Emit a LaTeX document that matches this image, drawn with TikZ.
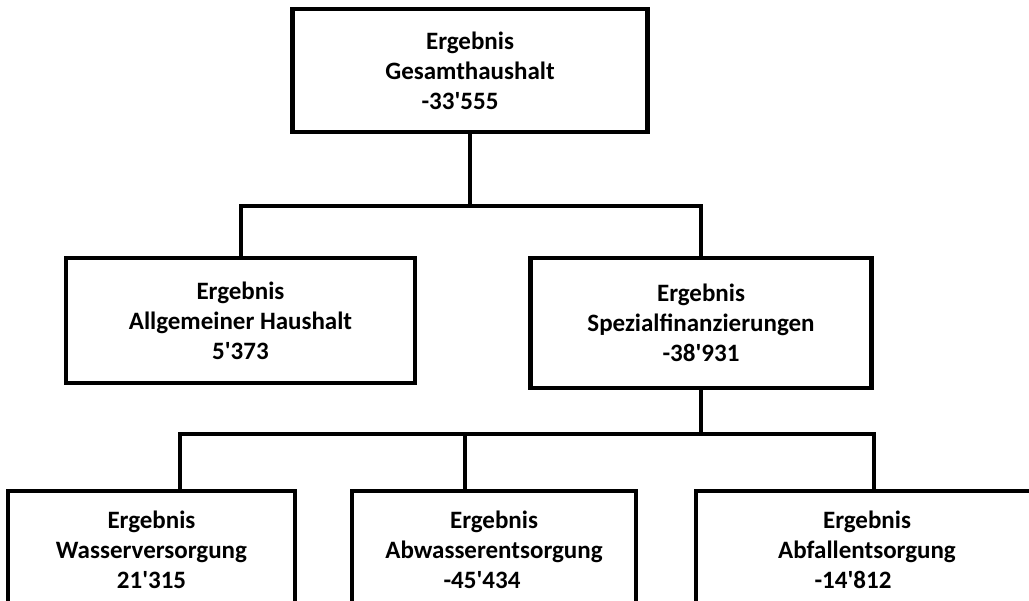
\documentclass[tikz,border=0pt]{standalone}
\usepackage{fontspec}
\setmainfont{Carlito}
\usepackage{tikz}
\tikzset{
  box/.style={draw, line width=4.5pt, inner sep=0, align=center,
    font=\fontsize{25}{30}\selectfont\bfseries},
  link/.style={line width=4pt}
}
\newcommand{\apo}{\textquotesingle}

\begin{document}
\begin{tikzpicture}[x=1pt,y=-1pt]
  \clip (0,0) rectangle (1029,601);
  % top level
  \node[box, minimum width=355pt, minimum height=123pt] (gesamt) at (470,70.5)
    {Ergebnis\\Gesamthaushalt\\-33\apo555\hspace*{20pt}};
  % second level
  \node[box, minimum width=349pt, minimum height=125pt] (allg) at (240.5,320.5)
    {Ergebnis\\Allgemeiner Haushalt\\5\apo373};
  \node[box, minimum width=341pt, minimum height=130pt] (spez) at (701,323)
    {Ergebnis\\Spezialfinanzierungen\\-38\apo931};
  % third level
  \node[box, minimum width=287pt, minimum height=118pt] (wasser) at (151.5,550)
    {Ergebnis\\Wasserversorgung\\21\apo315};
  \node[box, minimum width=284pt, minimum height=118pt] (abwasser) at (494,550)
    {Ergebnis\\Abwasserentsorgung\\-45\apo434\hspace*{24pt}};
  \node[box, minimum width=342pt, minimum height=118pt] (abfall) at (867,550)
    {Ergebnis\\Abfallentsorgung\\-14\apo812\hspace*{28pt}};

  % connectors
  \draw[link] (gesamt.south) -- ++(0,72) coordinate (fork1);
  \draw[link] (allg.north) |- (fork1) -| (spez.north);
  \draw[link] (spez.south) -- ++(0,46) coordinate (fork2);
  \coordinate (drop1) at (180,434);
  \coordinate (drop2) at (465,434);
  \coordinate (drop3) at (874,434);
  \draw[link] (drop1 |- wasser.north) -- (drop1) -- (drop3) -- (drop3 |- abfall.north);
  \draw[link] (drop2) -- (drop2 |- abwasser.north);
\end{tikzpicture}
\end{document}
